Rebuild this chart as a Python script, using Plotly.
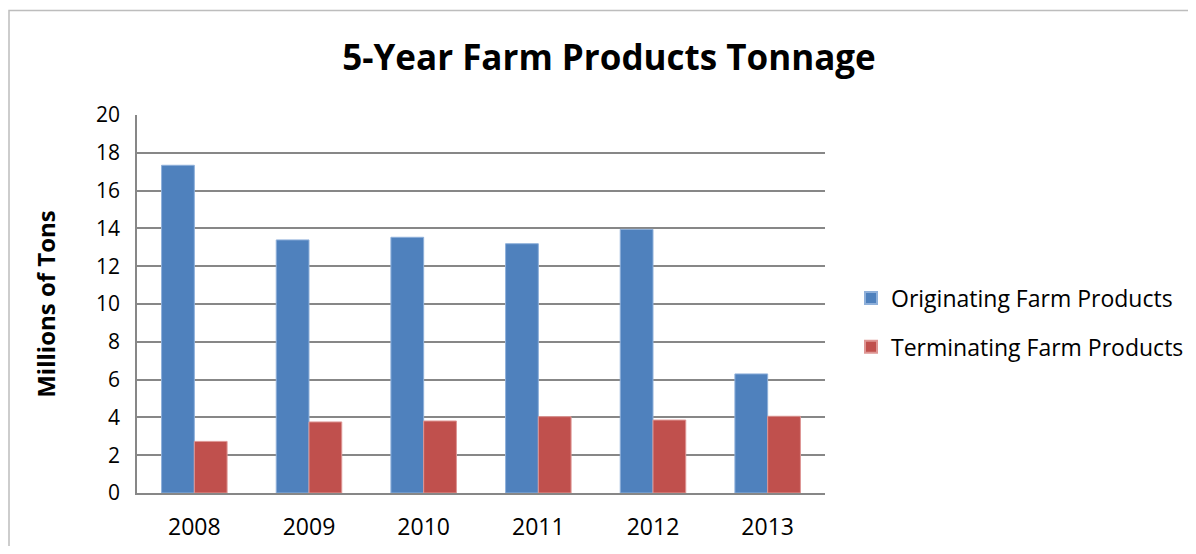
import plotly.graph_objects as go

years = ["2008", "2009", "2010", "2011", "2012", "2013"]
originating = [17.34, 13.39, 13.53, 13.19, 13.95, 6.30]
terminating = [2.73, 3.76, 3.81, 4.04, 3.86, 4.06]
y_ticks = [0, 2, 4, 6, 8, 10, 12, 14, 16, 18, 20]

FONT = "Open Sans"
W, H = 1180, 538
L, R, T, B = 129, 363, 107, 53
pw = W - L - R
ph = H - T - B

fig = go.Figure()
fig.add_bar(x=years, y=originating, name="Originating Farm Products", legendgroup="a",
            marker=dict(color="#4F81BD", line=dict(color="#8FB0DA", width=1)))
fig.add_bar(x=years, y=terminating, name="Terminating Farm Products", legendgroup="b",
            marker=dict(color="#C0504D", line=dict(color="#DE9694", width=1)))

fig.add_shape(type="rect", xref="paper", yref="paper",
              x0=(1 - L) / pw, x1=(W + 40 - L) / pw,
              y0=(H - B - (H + 40)) / ph, y1=(H - B - 2.5) / ph,
              line=dict(color="#BDBDBD", width=1.5), layer="below")

fig.update_layout(
    width=W, height=H,
    margin=dict(l=L, r=R, t=T, b=B, autoexpand=False),
    paper_bgcolor="white", plot_bgcolor="white",
    barmode="group", bargap=0.4286, bargroupgap=0,
    font=dict(family=FONT, color="black", size=20),
    title=dict(text="<b>5-Year Farm Products Tonnage</b>", x=601 / W, xanchor="center",
               y=1 - 50 / H, yanchor="middle", font=dict(size=35, family=FONT)),
    xaxis=dict(showgrid=False, showline=True, linecolor="#878787", linewidth=1.5,
               ticks="", tickfont=dict(size=23), ticklabelstandoff=13, automargin=False),
    yaxis=dict(range=[0, 20], tickvals=y_ticks, showgrid=True, gridcolor="#878787",
               gridwidth=1.6, showline=True, linecolor="#878787", linewidth=1.5,
               zeroline=False, ticks="", tickfont=dict(size=21), ticklabelstandoff=11,
               automargin=False,
               title=dict(text="<b>Millions of Tons</b>", font=dict(size=24), standoff=34)),
    legend=dict(x=(843 - L) / pw, y=(H - B - 314.5) / ph, xanchor="left", yanchor="middle",
                font=dict(size=23), tracegroupgap=16, itemsizing="constant",
                bgcolor="rgba(0,0,0,0)"),
)

fig.write_html("out.html")
